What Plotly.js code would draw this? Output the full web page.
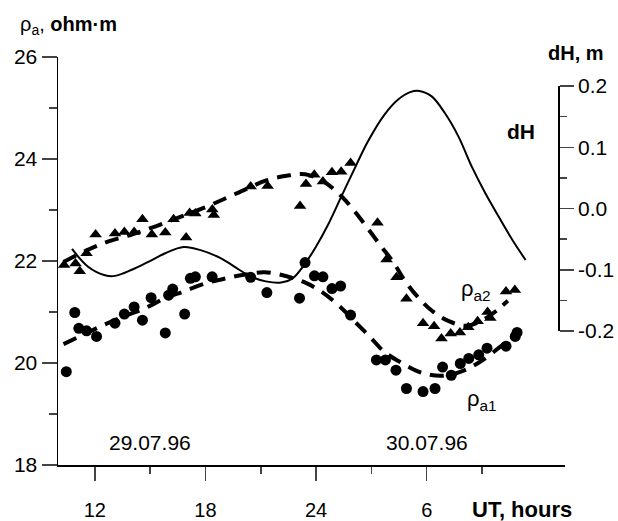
<!DOCTYPE html>
<html>
<head>
<meta charset="utf-8">
<script src="https://cdn.plot.ly/plotly-3.0.1.min.js"></script>
<style>html,body{margin:0;padding:0;background:#fff;}#chart{width:618px;height:521px;}</style>
</head>
<body>
<div id="chart"></div>
<script>
// ---- data (UT hours counted from 29.07.96 00:00; 30 = 6h next day) ----
const hoursA2 = [10.33,10.95,11.18,11.55,12.04,13.09,13.6,14.13,14.58,15.09,15.82,16.27,16.95,17.14,17.45,18.37,18.45,20.45,21.37,23.13,23.45,23.9,24.37,24.86,25.36,25.87,27.33,27.82,28.36,28.9,29.8,30.4,30.8,31.3,31.8,32.25,32.76,33.3,33.45,34.3,34.78];
const rhoA2   = [21.92,21.95,21.80,22.15,22.52,22.54,22.57,22.57,22.82,22.52,22.56,22.82,22.46,22.94,22.93,23.01,22.90,23.46,23.47,23.08,23.51,23.69,23.56,23.74,23.75,23.92,22.75,22.03,21.68,21.26,20.78,20.72,20.48,20.58,20.60,20.70,20.82,21.00,20.88,21.40,21.43];

const hoursA1 = [10.45,10.91,11.13,11.55,12.09,13.09,13.6,14.13,14.58,15.05,15.82,16.0,16.22,16.87,17.18,17.45,18.36,20.45,21.33,23.1,23.4,23.91,24.37,24.86,25.33,25.87,27.27,27.76,28.33,28.9,29.8,30.45,30.86,31.33,31.82,32.28,32.82,33.27,34.3,34.8,34.9];
const rhoA1   = [19.83,20.99,20.68,20.63,20.52,20.78,20.96,21.10,20.84,21.28,20.59,21.33,21.45,20.96,21.66,21.69,21.69,21.68,21.38,21.27,21.97,21.71,21.69,21.46,21.51,20.94,20.06,20.06,19.86,19.50,19.44,19.50,19.92,19.76,19.99,20.09,20.16,20.29,20.33,20.52,20.60];

const fitHoursA2 = [10.3,11.5,12.7,14.0,15.3,16.6,17.9,19.1,20.2,21.3,22.4,23.4,24.4,25.4,26.1,26.8,27.5,28.2,28.8,29.5,30.3,31.2,32.2,33.3,34.4];
const fitRhoA2   = [21.98,22.20,22.38,22.52,22.68,22.86,23.04,23.23,23.41,23.58,23.67,23.70,23.56,23.26,22.97,22.64,22.30,21.97,21.62,21.30,21.02,20.82,20.73,20.90,21.22];

const fitHoursA1 = [10.3,11.4,12.5,13.6,14.7,15.8,16.8,18.0,19.1,20.1,21.2,22.4,23.5,24.4,25.4,26.1,26.9,27.7,28.7,29.8,30.9,32.0,33.0,34.0,34.5];
const fitRhoA1   = [20.37,20.56,20.75,20.92,21.07,21.27,21.40,21.56,21.66,21.73,21.78,21.70,21.56,21.37,21.07,20.81,20.52,20.22,19.99,19.80,19.75,19.85,20.05,20.32,20.45];

const dHHours = [10.76,11.63,12.55,13.09,14.0,14.9,15.82,16.82,17.73,18.82,19.73,20.45,21.27,22.1,22.73,23.4,24.0,24.64,25.36,26.1,26.8,27.7,28.45,29.1,29.6,30.27,31.0,31.73,32.45,33.18,33.9,34.64,35.36];
const dHValues = [-0.066,-0.095,-0.109,-0.110,-0.100,-0.087,-0.073,-0.063,-0.068,-0.081,-0.098,-0.111,-0.119,-0.121,-0.114,-0.090,-0.062,-0.027,0.019,0.066,0.109,0.153,0.178,0.190,0.192,0.183,0.155,0.117,0.068,0.025,-0.013,-0.051,-0.084];

const xTickVals = [12,18,24,30];
const xTickText = ['12','18','24','6'];
const xMinorVals = [15,21,27,33];
const yTickVals = [18,20,22,24,26];
const yMinorVals = [19,21,23,25];
const y2TickVals = [-0.2,-0.1,0,0.1,0.2];
const y2TickText = ['-0.2','-0.1','0.0','0.1','0.2'];
const y2MinorVals = [-0.15,-0.05,0.05,0.15];

const FONT = 'Liberation Sans, Arial, sans-serif';

const traces = [
  {x: fitHoursA2, y: fitRhoA2, mode:'lines', line:{color:'#000', width:4, dash:'14px,9px', shape:'spline', smoothing:1}, hoverinfo:'skip'},
  {x: fitHoursA1, y: fitRhoA1, mode:'lines', line:{color:'#000', width:4, dash:'14px,9px', shape:'spline', smoothing:1}, hoverinfo:'skip'},
  {x: hoursA2, y: rhoA2, mode:'markers', marker:{symbol:'triangle-up', size:11, color:'#000'}},
  {x: hoursA1, y: rhoA1, mode:'markers', marker:{symbol:'circle', size:11, color:'#000'}},
  {x: dHHours, y: dHValues, xaxis:'x', yaxis:'y2', mode:'lines', line:{color:'#000', width:2, shape:'spline', smoothing:1}}
];

const layout = {
  width:618, height:521,
  margin:{l:58, r:53, t:57, b:56},
  paper_bgcolor:'#fff', plot_bgcolor:'rgba(0,0,0,0)',
  showlegend:false,
  font:{family:FONT, size:20, color:'#000'},
  xaxis:{
    range:[10,37.5], domain:[0,1], anchor:'y',
    showgrid:false, zeroline:false, showline:true, linecolor:'#000', linewidth:1.5,
    ticks:'outside', ticklen:14, tickwidth:1.5, tickcolor:'#444',
    tickmode:'array', tickvals:xTickVals, ticktext:xTickText,
    ticklabelstandoff:12,
    minor:{tickmode:'array', tickvals:xMinorVals, ticks:'outside', ticklen:7, tickwidth:1.5, tickcolor:'#444', showgrid:false},
    tickfont:{size:20}
  },
  yaxis:{
    range:[18,26], domain:[0,1], anchor:'x',
    showgrid:false, zeroline:false, showline:true, linecolor:'#000', linewidth:1.5,
    ticks:'outside', ticklen:15, tickwidth:1.5, tickcolor:'#444',
    tickmode:'array', tickvals:yTickVals,
    minor:{tickmode:'array', tickvals:yMinorVals, ticks:'outside', ticklen:8, tickwidth:1.5, tickcolor:'#444', showgrid:false},
    tickfont:{size:21}
  },
  yaxis2:{
    range:[-0.2,0.2], domain:[(465-331)/408, (465-86)/408], anchor:'free', position:0.987, side:'right',
    showgrid:false, zeroline:false, showline:true, linecolor:'#000', linewidth:1.5,
    ticks:'outside', ticklen:14, tickwidth:1.5, tickcolor:'#444',
    tickmode:'array', tickvals:y2TickVals, ticktext:y2TickText,
    minor:{tickmode:'array', tickvals:y2MinorVals, ticks:'outside', ticklen:7, tickwidth:1.5, tickcolor:'#444', showgrid:false},
    tickfont:{size:21}
  },
  annotations:[
    {xref:'paper', yref:'paper', x:-0.079, y:(465-25)/408, xanchor:'left', yanchor:'middle', showarrow:false,
     text:'ρ<sub>a</sub>, <b>ohm·m</b>', font:{size:20}},
    {xref:'paper', yref:'paper', x:(576-58)/507, y:(465-53)/408, xanchor:'center', yanchor:'middle', showarrow:false,
     text:'<b>dH, m</b>', font:{size:20}},
    {xref:'paper', yref:'paper', x:(522-58)/507, y:(465-509)/408, xanchor:'center', yanchor:'middle', showarrow:false,
     text:'<b>UT, hours</b>', font:{size:22}},
    {xref:'x', yref:'y', x:15, y:18.45, showarrow:false, text:'29.07.96', font:{size:21}},
    {xref:'x', yref:'y', x:30, y:18.45, showarrow:false, text:'30.07.96', font:{size:21}},
    {xref:'x', yref:'y2', x:35.1, y:0.125, showarrow:false, text:'<b>dH</b>', font:{size:21}},
    {xref:'x', yref:'y', x:32.67, y:21.43, showarrow:false, text:'ρ<sub>a2</sub>', font:{size:22}},
    {xref:'x', yref:'y', x:33.0, y:19.27, showarrow:false, text:'ρ<sub>a1</sub>', font:{size:22}}
  ]
};

Plotly.newPlot('chart', traces, layout, {staticPlot:true, displayModeBar:false});
</script>
</body>
</html>
